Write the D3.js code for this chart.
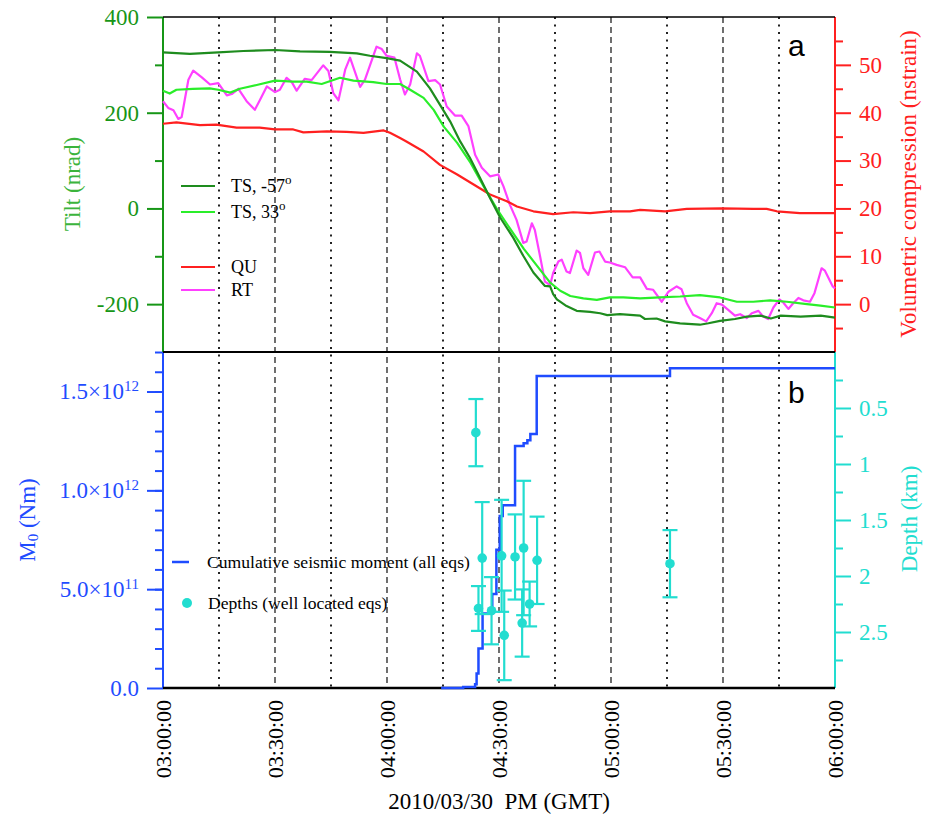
<!DOCTYPE html>
<html>
<head>
<meta charset="utf-8">
<script src="https://cdn.jsdelivr.net/npm/d3@7"></script>
<style>body{margin:0;background:#fff;}</style>
</head>
<body>
<div id="chart"></div>
<script>
// ---- data (time = minutes after 15:00 GMT) ----
const tsM57 = [[0,326],[7.2,323],[14.8,326],[21.5,329],[30,331],[36.7,328],[44.7,327],[51.9,324],[55.4,319],[59.9,314],[63.5,309],[68,286],[71.5,251],[74.7,210],[76.9,182],[79.6,140],[82.2,106],[84.9,64],[87.6,22],[90.3,-19],[93.8,-61],[96.5,-99],[99.2,-134],[102.3,-162],[103.7,-163],[104.5,-179],[105.5,-190],[108.1,-204],[110.8,-214],[114.4,-216],[117.1,-219],[119,-223],[122.4,-221],[127.8,-224],[129.1,-231],[132.2,-230],[134.5,-236],[138.5,-240],[143.8,-243],[146.1,-240],[149.2,-235],[153.2,-231],[156.4,-226],[160.1,-224],[162.8,-230],[165.5,-224],[170.8,-226],[176.2,-224],[180,-228]];

const ts33 = [[0,246],[1.8,240],[3.6,248],[8,250],[12.5,251],[14.8,248],[18,242],[20.6,250],[25.1,258],[30,267],[34.9,265],[38.5,265],[42.5,260],[47.4,273],[51,267],[56.3,264],[59.9,260],[63.5,260],[66.2,248],[69.8,231],[72.5,206],[75.2,171],[78.8,137],[82.4,95],[85.9,46],[89.5,-2],[93.1,-44],[96.7,-85],[100.2,-120],[103.7,-155],[106.4,-172],[109.1,-183],[112.6,-188],[116.2,-191],[119.7,-186],[123.3,-186],[127.8,-188],[133.1,-186],[138.5,-184],[143.8,-181],[149.2,-186],[153.7,-195],[158.1,-195],[162.6,-192],[167.1,-195],[172.5,-200],[176.1,-203],[180,-207]];

const qu = [[0,37.7],[3.6,38.0],[9.9,37.4],[14.3,37.5],[19.7,36.9],[25.9,36.9],[30,36.5],[34.9,36.5],[37.6,35.9],[43.9,36.1],[49.2,36.0],[53.7,35.8],[59.1,36.3],[60.8,35.8],[63.5,34.7],[65.2,34.0],[69.8,31.9],[74.2,29.1],[78.8,27.1],[83.2,25.0],[87.6,22.9],[92.1,21.5],[94.8,20.4],[99.2,19.4],[104.5,18.8],[109.9,19.2],[114.4,19.0],[119.7,19.4],[125.1,19.4],[127.8,19.7],[134.5,19.4],[140.3,19.9],[149.7,20.0],[158.1,19.9],[161.7,19.9],[164.4,19.4],[170.6,19.0],[180,19.0]];

const rt = [[0,42.4],[1.4,41.0],[2.8,40.5],[4.1,38.7],[5.0,39.1],[6.8,46.9],[8.1,48.8],[10.4,47.4],[12.6,45.9],[14.8,46.2],[17.1,43.6],[18.4,43.9],[20.2,45.0],[22.4,42.4],[24.6,40.6],[26.0,42.7],[27.8,45.5],[30.0,44.3],[31.3,44.8],[33.1,47.3],[34.5,46.4],[35.8,44.6],[38.0,47.1],[39.8,46.8],[42.9,49.9],[44.3,48.7],[45.6,44.1],[47.0,42.6],[48.8,49.0],[50.1,51.5],[52.8,45.4],[54.1,46.9],[57.2,53.8],[58.6,53.3],[59.9,51.9],[62.0,51.5],[63.5,47.0],[64.8,43.8],[66.2,45.9],[68.0,52.4],[68.8,51.9],[71.1,46.6],[72.9,46.8],[74.2,45.9],[76.0,41.3],[78.2,39.4],[80.0,39.4],[81.8,37.2],[83.6,31.2],[85.4,28.5],[87.6,26.7],[89.8,27.1],[91.2,24.6],[92.9,20.8],[94.7,17.6],[96.5,12.8],[97.4,13.1],[98.8,16.9],[99.6,15.5],[101.0,10.0],[102.3,4.7],[103.7,4.0],[104.5,6.5],[105.9,8.9],[106.8,9.3],[108.1,6.8],[109.0,6.5],[110.8,11.2],[111.7,10.7],[112.6,7.5],[113.9,6.1],[115.7,10.8],[116.9,11.0],[118.4,8.9],[119.7,8.7],[121.5,8.2],[123.8,7.7],[125.8,5.6],[127.8,5.6],[129.6,3.2],[131.3,3.0],[133.6,0.5],[135.4,2.6],[137.6,3.7],[138.9,3.1],[140.3,0.2],[142.0,-2.2],[143.8,-2.9],[145.5,-3.6],[147.0,-1.9],[148.3,0.2],[149.7,-0.1],[151.4,-1.2],[153.2,-2.4],[154.6,-2.1],[156.4,-2.9],[157.7,-1.9],[159.5,-1.4],[160.8,-2.6],[162.1,-3.1],[163.5,-0.7],[165.1,1.0],[166.2,0.3],[167.5,-1.0],[168.8,0.2],[170.2,1.3],[171.5,0.8],[173.3,0.5],[174.5,2.3],[176.4,7.5],[177.3,7.0],[179.4,3.7],[180,3.3]];

// cumulative seismic moment (Nm), step after each event
const momentSteps = [[74.5,0],[80.4,0.005e12],[83.6,0.019e12],[84.0,0.073e12],[84.5,0.2e12],[85.6,0.377e12],[88.2,0.475e12],[89.3,0.7e12],[90.2,0.87e12],[91.0,0.925e12],[94.3,1.224e12],[96.6,1.238e12],[97.6,1.254e12],[98.4,1.285e12],[100.1,1.579e12],[135.8,1.618e12],[180,1.618e12]];

// well located earthquakes: time, depth (km), error (km)
const eqTime  = [83.8, 85.5, 84.5, 88.0, 90.7, 91.4, 94.3, 96.6, 96.2, 98.2, 100.2, 135.8];
const eqDepth = [0.72, 1.84, 2.29, 2.31, 1.82, 2.53, 1.83, 1.75, 2.42, 2.25, 1.86, 1.89];
const eqErr   = [0.30, 0.50, 0.20, 0.30, 0.50, 0.40, 0.38, 0.60, 0.30, 0.20, 0.39, 0.30];

const tiltTicks = [-200, 0, 200, 400];
const tiltMinor = [-100, 100, 300];
const volTicks = [0, 10, 20, 30, 40, 50];
const volMinor = [-5, 5, 15, 25, 35, 45, 55];
const momentTicks = [0, 5e11, 1e12, 1.5e12];
const momentMinor = d3.range(1, 18).map(i => i * 1e11);
const depthTicks = [0.5, 1, 1.5, 2, 2.5];
const depthMinor = [0.25, 0.75, 1.25, 1.75, 2.25, 2.75];

// ---- layout ----
const width = 929, height = 817;
const plotLeft = 163, plotRight = 835, plotTop = 17, plotMid = 352, plotBottom = 688;
const serif = "'Liberation Serif', 'Times New Roman', serif";

const darkGreen = "#1e8c1e", lightGreen = "#2aee2a", red = "#ff2020", magenta = "#ff40ff";
const axisGreen = "#179617", blue = "#1f4cff", cyan = "#22ddd0";

const startTime = new Date(2010, 2, 30, 15, 0, 0);
const toDate = m => new Date(startTime.getTime() + m * 60000);

const svg = d3.select("#chart")
    .append("svg")
    .attr("width", width)
    .attr("height", height)
    .style("background", "#fff");

// scales
const xScale = d3.scaleTime().domain([toDate(0), toDate(180)]).range([plotLeft, plotRight]);
const tiltScale = d3.scaleLinear().domain([-300, 400]).range([plotMid, plotTop]);
const volScale = d3.scaleLinear().domain([-10, 60]).range([plotMid, plotTop]);
const momentScale = d3.scaleLinear().domain([0, 1.7e12]).range([plotBottom, plotMid]);
const depthScale = d3.scaleLinear().domain([0, 3]).range([plotMid, plotBottom]);

// vertical grid: dashed on the half hours, dotted on the quarters
const gridTimes = d3.range(15, 180, 15);
svg.append("g")
    .selectAll("line")
    .data(gridTimes)
    .join("line")
        .attr("x1", d => xScale(toDate(d)))
        .attr("x2", d => xScale(toDate(d)))
        .attr("y1", plotTop)
        .attr("y2", plotBottom)
        .attr("stroke", "#222")
        .attr("stroke-width", d => d % 30 === 0 ? 1.3 : 2)
        .attr("stroke-dasharray", d => d % 30 === 0 ? "6,4" : "2,5.5");

// y axes helper (major + minor ticks, outward)
function yAxis(scale, side, majors, minors, color, fmt, x) {
    const axisFn = side === "left" ? d3.axisLeft : d3.axisRight;
    const g = svg.append("g").attr("transform", `translate(${x},0)`);
    g.append("g").call(axisFn(scale).tickValues(minors).tickSize(8).tickFormat(""));
    g.append("g").attr("class", "major")
        .call(axisFn(scale).tickValues(majors).tickSize(16).tickPadding(8).tickFormat(fmt));
    g.selectAll(".domain").remove();
    g.selectAll("line").attr("stroke", color).attr("stroke-width", 2);
    g.selectAll("text")
        .attr("fill", color)
        .attr("font-family", serif)
        .attr("font-size", 23);
    return g;
}

yAxis(tiltScale, "left", tiltTicks, tiltMinor, axisGreen, d => String(d), plotLeft);
yAxis(volScale, "right", volTicks, volMinor, red, d => String(d), plotRight);
yAxis(depthScale, "right", depthTicks, depthMinor, cyan, d => String(d), plotRight);
const mAxis = yAxis(momentScale, "left", momentTicks, momentMinor, blue, d => d, plotLeft);

// moment labels as mantissa x 10^exp
mAxis.selectAll(".major text").each(function(d) {
    const t = d3.select(this).text("");
    if (d === 0) { t.text("0.0"); return; }
    const exp = Math.floor(Math.log10(d));
    const mant = (d / Math.pow(10, exp)).toFixed(1);
    t.append("tspan").text(mant + "\u00d710");
    t.append("tspan").attr("font-size", 15).attr("dy", "-0.55em").text(exp);
});

// axis spines
const spines = [
    {x: plotLeft, y1: plotTop, y2: plotMid, c: axisGreen},
    {x: plotLeft, y1: plotMid, y2: plotBottom, c: blue},
    {x: plotRight, y1: plotTop, y2: plotMid, c: red},
    {x: plotRight, y1: plotMid, y2: plotBottom, c: cyan}
];
svg.append("g").selectAll("line").data(spines).join("line")
    .attr("x1", d => d.x).attr("x2", d => d.x)
    .attr("y1", d => d.y1).attr("y2", d => d.y2)
    .attr("stroke", d => d.c).attr("stroke-width", 2);

// horizontal frame lines
[[plotTop, 1.5], [plotMid, 2], [plotBottom, 2.5]].forEach(([y, w]) => {
    svg.append("line")
        .attr("x1", plotLeft).attr("x2", plotRight)
        .attr("y1", y).attr("y2", y)
        .attr("stroke", "#000").attr("stroke-width", w);
});

// ---- panel a lines ----
const tiltLine = d3.line().x(d => xScale(toDate(d[0]))).y(d => tiltScale(d[1]));
const volLine = d3.line().x(d => xScale(toDate(d[0]))).y(d => volScale(d[1]));

const drawLine = (data, gen, color) => svg.append("path")
    .attr("d", gen(data))
    .attr("fill", "none")
    .attr("stroke", color)
    .attr("stroke-width", 2.2)
    .attr("stroke-linejoin", "round");

drawLine(rt, volLine, magenta);
drawLine(qu, volLine, red);
drawLine(ts33, tiltLine, lightGreen);
drawLine(tsM57, tiltLine, darkGreen);

// ---- panel b ----
const stepLine = d3.line()
    .x(d => xScale(toDate(d[0])))
    .y(d => momentScale(d[1]))
    .curve(d3.curveStepAfter);

svg.append("path")
    .attr("d", stepLine(momentSteps))
    .attr("fill", "none")
    .attr("stroke", blue)
    .attr("stroke-width", 2.5);

const eqs = eqTime.map((t, i) => ({t: t, d: eqDepth[i], e: eqErr[i]}));
const eqG = svg.append("g")
    .selectAll("g")
    .data(eqs)
    .join("g")
    .attr("stroke", cyan)
    .attr("stroke-width", 2.2);

eqG.append("line")
    .attr("x1", d => xScale(toDate(d.t))).attr("x2", d => xScale(toDate(d.t)))
    .attr("y1", d => depthScale(d.d - d.e)).attr("y2", d => depthScale(d.d + d.e));
eqG.append("line")
    .attr("x1", d => xScale(toDate(d.t)) - 7.5).attr("x2", d => xScale(toDate(d.t)) + 7.5)
    .attr("y1", d => depthScale(d.d - d.e)).attr("y2", d => depthScale(d.d - d.e));
eqG.append("line")
    .attr("x1", d => xScale(toDate(d.t)) - 7.5).attr("x2", d => xScale(toDate(d.t)) + 7.5)
    .attr("y1", d => depthScale(d.d + d.e)).attr("y2", d => depthScale(d.d + d.e));
eqG.append("circle")
    .attr("cx", d => xScale(toDate(d.t)))
    .attr("cy", d => depthScale(d.d))
    .attr("r", 4.8)
    .attr("fill", cyan)
    .attr("stroke", "none");

// ---- x axis labels ----
const xAxis = d3.axisBottom(xScale)
    .tickValues(d3.range(0, 181, 30).map(toDate))
    .tickSize(0)
    .tickFormat(d3.timeFormat("%I:%M:%S"));

const xg = svg.append("g").attr("transform", `translate(0,${plotBottom})`).call(xAxis);
xg.select(".domain").remove();
xg.selectAll("text")
    .attr("transform", "rotate(-90)")
    .attr("text-anchor", "end")
    .attr("x", -12)
    .attr("y", 0)
    .attr("dy", "0.35em")
    .attr("fill", "#000")
    .attr("font-family", serif)
    .attr("font-size", 22);

svg.append("text")
    .attr("x", (plotLeft + plotRight) / 2)
    .attr("y", 809)
    .attr("text-anchor", "middle")
    .attr("font-family", serif)
    .attr("font-size", 23)
    .text("2010/03/30\u00a0\u00a0PM (GMT)");

// ---- axis titles ----
const vTitle = (x, y, color) => svg.append("text")
    .attr("transform", `translate(${x},${y}) rotate(-90)`)
    .attr("text-anchor", "middle")
    .attr("dominant-baseline", "central")
    .attr("font-family", serif)
    .attr("font-size", 23)
    .attr("fill", color);

vTitle(72, 184, "#3cb43c").text("Tilt (nrad)");
vTitle(908, 184, red).text("Volumetric compression (nstrain)");
vTitle(909, 519, cyan).text("Depth (km)");
const m0 = vTitle(27, 520, blue);
m0.append("tspan").text("M");
m0.append("tspan").attr("font-size", 15).attr("dy", 6).text("0");
m0.append("tspan").attr("dy", -6).text(" (Nm)");

// panel letters
svg.append("text").attr("x", 788).attr("y", 56)
    .attr("font-family", "'Liberation Sans', Arial, sans-serif").attr("font-size", 30).text("a");
svg.append("text").attr("x", 788).attr("y", 403)
    .attr("font-family", "'Liberation Sans', Arial, sans-serif").attr("font-size", 30).text("b");

// ---- legends ----
const legendA = [
    {label: "TS, -57", sup: "o", color: darkGreen, y: 186},
    {label: "TS, 33", sup: "o", color: lightGreen, y: 212},
    {label: "QU", sup: "", color: red, y: 267},
    {label: "RT", sup: "", color: magenta, y: 290}
];
const la = svg.append("g").selectAll("g").data(legendA).join("g");
la.append("line")
    .attr("x1", 181).attr("x2", 215)
    .attr("y1", d => d.y).attr("y2", d => d.y)
    .attr("stroke", d => d.color).attr("stroke-width", 2);
la.append("text")
    .attr("x", 231).attr("y", d => d.y + 6)
    .attr("font-family", serif).attr("font-size", 18)
    .each(function(d) {
        const t = d3.select(this);
        t.append("tspan").text(d.label);
        if (d.sup) t.append("tspan").attr("font-size", 13).attr("dy", -8).text(d.sup);
    });

svg.append("line")
    .attr("x1", 172).attr("x2", 189).attr("y1", 562).attr("y2", 562)
    .attr("stroke", blue).attr("stroke-width", 2.5);
svg.append("text").attr("x", 207).attr("y", 568)
    .attr("font-family", serif).attr("font-size", 17.6)
    .text("Cumulative seismic moment (all eqs)");
svg.append("circle").attr("cx", 187).attr("cy", 603).attr("r", 5).attr("fill", cyan);
svg.append("text").attr("x", 208).attr("y", 609)
    .attr("font-family", serif).attr("font-size", 17.6)
    .text("Depths (well located eqs)");
</script>
</body>
</html>
